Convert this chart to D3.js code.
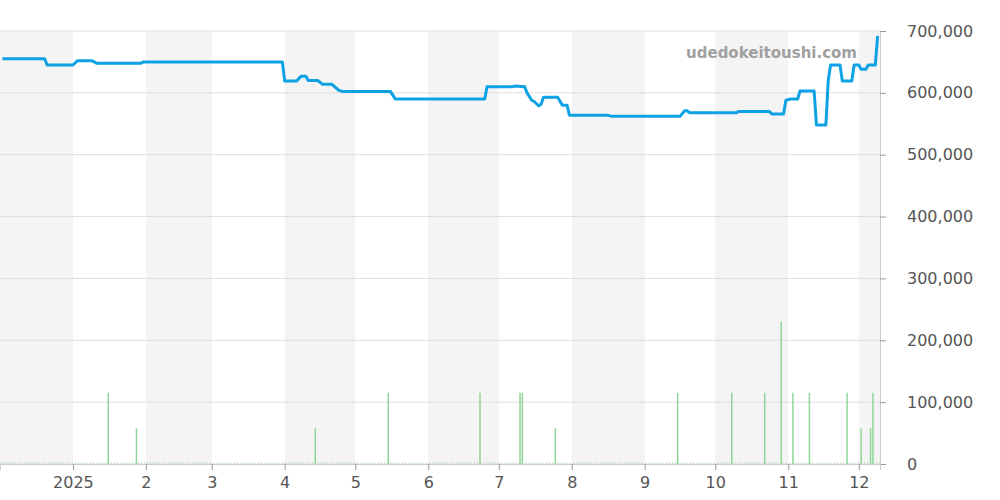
<!DOCTYPE html>
<html><head><meta charset="utf-8">
<script src="https://cdn.jsdelivr.net/npm/d3@7"></script>
<style>body{margin:0;background:#fff}svg{display:block;font-family:"DejaVu Sans",sans-serif}</style>
</head><body><svg id="c" width="1000" height="500"></svg>
<script>
// price line (date, yen)
var priceDates = ['2024-12-02','2024-12-20','2024-12-21','2025-01-01','2025-01-03','2025-01-09','2025-01-11','2025-01-30','2025-01-31',
  '2025-03-31','2025-04-01','2025-04-06','2025-04-08','2025-04-10','2025-04-11','2025-04-15','2025-04-17','2025-04-21','2025-04-24','2025-04-26',
  '2025-05-16','2025-05-18','2025-06-25','2025-06-26','2025-07-07','2025-07-08','2025-07-12','2025-07-13','2025-07-15','2025-07-16','2025-07-18',
  '2025-07-19','2025-07-20','2025-07-26','2025-07-28','2025-07-30','2025-07-31','2025-08-16','2025-08-18','2025-09-16','2025-09-18','2025-09-19',
  '2025-09-20','2025-10-10','2025-10-11','2025-10-24','2025-10-25','2025-10-30','2025-10-31','2025-11-02','2025-11-05','2025-11-06','2025-11-12',
  '2025-11-13','2025-11-17','2025-11-18','2025-11-19','2025-11-23','2025-11-24','2025-11-28','2025-11-29','2025-12-01','2025-12-02','2025-12-04',
  '2025-12-05','2025-12-08','2025-12-09']
var priceValues = [655000,655000,645000,645000,652000,652000,648000,648000,650000,
  650000,619000,619000,627000,627000,620000,620000,614000,614000,604000,602000,
  602000,590000,590000,610000,610000,611000,610000,600000,588000,586000,579000,
  582000,593000,593000,580000,580000,564000,564000,562000,562000,571000,571000,
  568000,568000,570000,570000,566000,566000,588000,590000,590000,603000,603000,
  548000,548000,620000,645000,645000,619000,619000,645000,645000,638000,638000,
  645000,645000,692000]

// volume spikes (date, count)
var volDates = ['2025-01-16','2025-01-28','2025-04-14','2025-05-15','2025-06-23','2025-07-10','2025-07-11','2025-07-25','2025-09-15',
  '2025-10-08','2025-10-22','2025-10-29','2025-11-03','2025-11-10','2025-11-26','2025-12-02','2025-12-06','2025-12-07']
var volCounts = [2,1,1,2,2,2,2,1,2,2,2,4,2,2,2,1,1,2]
var volUnit = 57500

var yTicks = [0,100000,200000,300000,400000,500000,600000,700000]
var xTickLabels = ['2025','2','3','4','5','6','7','8','9','10','11','12']

var W = 880, yTop = 31, yBot = 464
var parse = d3.timeParse('%Y-%m-%d')
var x = d3.scaleTime().domain([parse('2024-12-01'), parse('2025-12-10')]).range([0, W])
var y = d3.scaleLinear().domain([0, 700000]).range([yBot, yTop])
var svg = d3.select('#c')

// month shading
var months = d3.timeMonth.range(parse('2024-12-01'), parse('2025-12-10'))
months.forEach(function(m, i) {
  if (i % 2) return
  var x0 = x(m), x1 = Math.min(W, x(d3.timeMonth.offset(m, 1)))
  svg.append('rect').attr('x', x0).attr('y', yTop).attr('width', x1 - x0).attr('height', yBot - yTop).attr('fill', '#f4f4f4')
})

// grid
svg.selectAll('.g').data(yTicks).enter().append('line')
  .attr('x1', 0).attr('x2', W).attr('y1', d => y(d)).attr('y2', d => y(d))
  .attr('stroke', '#dedede').attr('stroke-width', 1)

// axes
var yAxis = d3.axisRight(y).tickValues(yTicks).tickSize(6).tickFormat(d3.format(','))
var ya = svg.append('g').attr('transform', `translate(${W},0)`).call(yAxis)
ya.select('.domain').attr('stroke', '#ccc')
ya.selectAll('line').attr('stroke', '#999')
ya.selectAll('text').attr('x', 27).attr('font-size', 16).attr('fill', '#555').attr('font-family', '"DejaVu Sans",sans-serif')

var xTicks = months.slice(1)
var xAxis = d3.axisBottom(x).tickValues(xTicks).tickSize(6).tickFormat((d, i) => xTickLabels[i])
var xa = svg.append('g').attr('transform', `translate(0,${yBot})`).call(xAxis)
xa.select('.domain').attr('stroke', '#ccc')
xa.selectAll('line').attr('stroke', '#999')
xa.selectAll('text').attr('y', 13).attr('font-size', 16).attr('fill', '#555').attr('font-family', '"DejaVu Sans",sans-serif')

// faint baseline of volume
svg.append('line').attr('x1', 0).attr('x2', W).attr('y1', yBot - 1).attr('y2', yBot - 1)
  .attr('stroke', '#9ed9a4').attr('stroke-dasharray', '1,2')

// volume
svg.selectAll('.v').data(volDates).enter().append('line')
  .attr('x1', d => x(parse(d))).attr('x2', d => x(parse(d)))
  .attr('y1', yBot).attr('y2', (d, i) => y(volCounts[i] * volUnit))
  .attr('stroke', '#8fd59a').attr('stroke-width', 1.5)

// watermark
svg.append('text').attr('x', 857).attr('y', 58).attr('text-anchor', 'end')
  .attr('font-size', 15).attr('font-weight', 'bold').attr('fill', '#a0a0a0').text('udedokeitoushi.com')

// price line
var pts = priceDates.map((d, i) => [parse(d), priceValues[i]])
svg.append('path').datum(pts)
  .attr('d', d3.line().x(d => x(d[0])).y(d => y(d[1])))
  .attr('fill', 'none').attr('stroke', '#0ea2e4').attr('stroke-width', 3).attr('stroke-linejoin', 'round')
</script></body></html>
